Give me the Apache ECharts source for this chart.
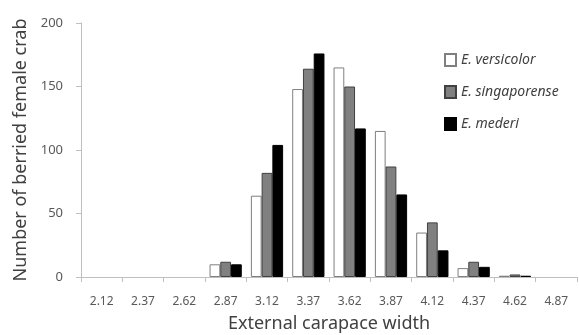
<!DOCTYPE html>
<html>
<head>
<meta charset="utf-8">
<script src="https://cdn.jsdelivr.net/npm/echarts@6/dist/echarts.min.js"></script>
<style>
html,body{margin:0;padding:0;background:#fff;}
#chart{width:579px;height:335px;}
</style>
</head>
<body>
<div id="chart"></div>
<script>
//分类（外壳宽度）
var widths = ['2.12','2.37','2.62','2.87','3.12','3.37','3.62','3.87','4.12','4.37','4.62','4.87'];
//各物种数量
var versicolor = [0,0,0,10,64,148,165,115,35,7,1,0];
var singaporense = [0,0,0,12,82,164,150,87,43,12,2,0];
var mederi = [0,0,0,10,104,176,117,65,21,8,1,0];
var yTicks = [0,50,100,150,200];

var font = '"Noto Sans", sans-serif';
var myChart = echarts.init(document.getElementById('chart'));

function bar(name, data, fill, border){
	return {
		name: name,
		type: 'bar',
		//零值不画边框
		data: data.map(function(v){
			return v === 0 ? { value: v, itemStyle: { borderWidth: 0 } } : v;
		}),
		barGap: '0%',
		barCategoryGap: '22%',
		itemStyle: { color: fill, borderColor: border, borderWidth: 1 }
	};
}

var option = {
	animation: false,
	grid: { left: 81, right: 2, top: 23, bottom: 58, outerBoundsMode: 'none', containLabel: false },
	legend: {
		orient: 'vertical',
		left: 439,
		top: 48,
		itemWidth: 11,
		itemHeight: 12,
		itemGap: 18,
		itemTextGap: 6,
		icon: 'rect',
		textStyle: { fontFamily: font, fontSize: 14, fontStyle: 'italic', color: '#404040' },
		data: ['E. versicolor','E. singaporense','E. mederi']
	},
	xAxis: {
		type: 'category',
		data: widths,
		name: 'External carapace width',
		nameLocation: 'middle',
		nameGap: 38,
		nameTextStyle: { fontFamily: font, fontSize: 18, color: '#404040' },
		axisLine: { lineStyle: { color: '#bfbfbf' } },
		axisTick: { show: true, length: 5, lineStyle: { color: '#bfbfbf' } },
		axisLabel: { fontFamily: font, fontSize: 12, color: '#595959', margin: 19 }
	},
	yAxis: {
		type: 'value',
		min: yTicks[0],
		max: yTicks[yTicks.length - 1],
		interval: 50,
		name: 'Number of berried female crab',
		nameLocation: 'middle',
		nameGap: 48,
		nameTextStyle: { fontFamily: font, fontSize: 18, color: '#404040' },
		axisLine: { show: true, lineStyle: { color: '#bfbfbf' } },
		axisTick: { show: true, length: 5, lineStyle: { color: '#bfbfbf' } },
		axisLabel: { fontFamily: font, fontSize: 13, color: '#595959', margin: 18 },
		splitLine: { show: false }
	},
	series: [
		bar('E. versicolor', versicolor, '#ffffff', '#7f7f7f'),
		bar('E. singaporense', singaporense, '#808080', '#404040'),
		bar('E. mederi', mederi, '#000000', '#000000')
	]
};
myChart.setOption(option);
</script>
</body>
</html>
